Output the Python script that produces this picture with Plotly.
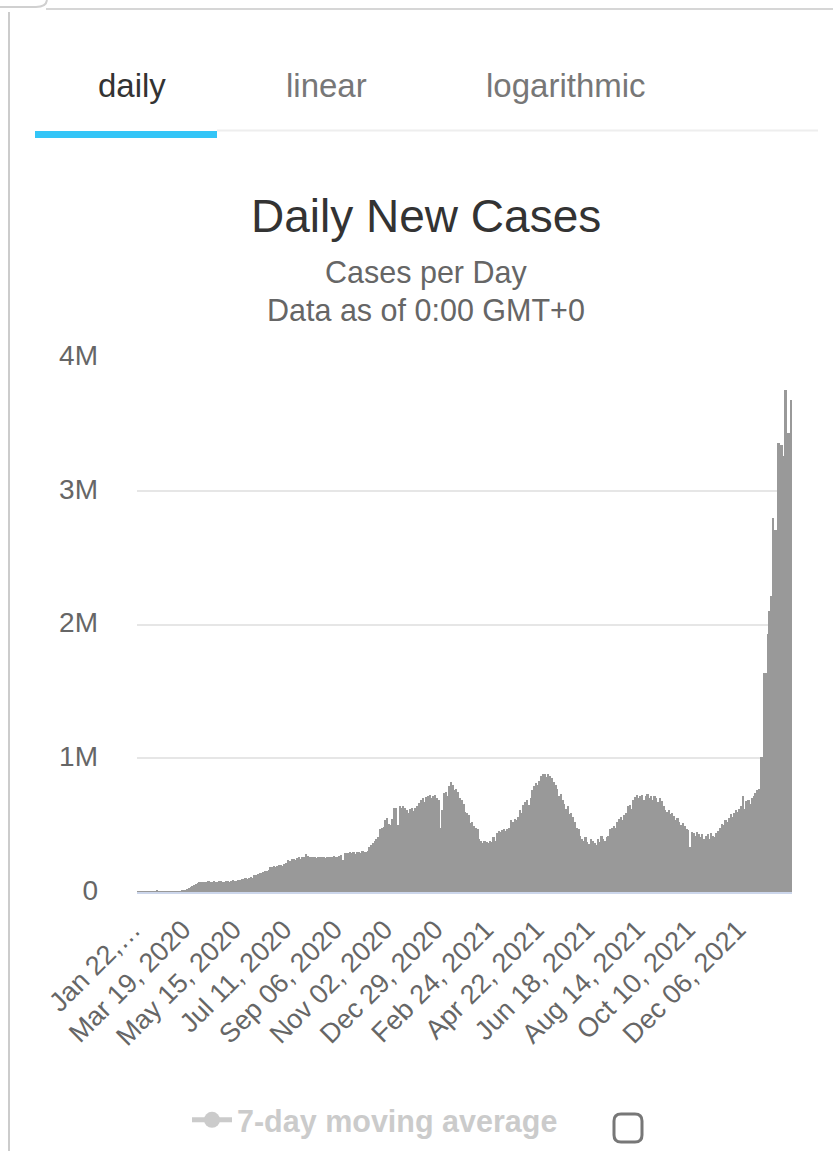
import pandas as pd
import plotly.graph_objects as go

# ---------------- data (daily new cases, thousands, 2-day bins from Jan 22, 2020) ----------------
cases_2020_jan_may = [0.6, 1.5, 2.1, 2.8, 3.5, 3.8, 3.9, 3.6, 3.2, 2.9,
                      2.3, 9.5, 3.5, 2.0, 1.2, 0.8, 0.9, 1.5, 1.8, 2.0,
                      2.3, 2.5, 3.5, 4.2, 7.5, 10.5, 13, 16, 22, 30,
                      38, 48, 55, 62, 68, 74, 78, 75, 72, 78,
                      80, 74, 76, 82, 78, 72, 79, 84, 76, 78]
cases_2020_may_aug = [84, 80, 77, 86, 88, 79, 85, 92, 90, 96,
                      98, 104, 95, 106, 112, 108, 125, 130, 132, 140,
                      145, 150, 160, 158, 165, 185, 188, 195, 190, 198,
                      200, 205, 198, 210, 215, 238, 230, 245, 250, 240,
                      255, 262, 250, 258, 265, 285, 268, 262, 258, 265]
cases_2020_aug_nov = [260, 255, 265, 262, 258, 262, 255, 265, 260, 258,
                      262, 268, 262, 258, 272, 280, 240, 292, 295, 288,
                      298, 290, 300, 285, 300, 302, 290, 305, 300, 296,
                      310, 335, 350, 370, 385, 400, 410, 470, 480, 485,
                      540, 555, 510, 500, 545, 625, 630, 500, 640, 625]
cases_2020_nov_2021_mar = [640, 630, 615, 590, 620, 628, 605, 630, 640, 665,
                           690, 700, 675, 710, 720, 728, 700, 715, 725, 700,
                           690, 480, 610, 737, 745, 720, 790, 825, 800, 760,
                           770, 745, 700, 685, 660, 600, 590, 575, 515, 525,
                           490, 480, 470, 395, 380, 370, 385, 375, 370, 385]
cases_2021_mar_jun = [375, 410, 380, 440, 455, 445, 460, 470, 455, 470,
                      480, 540, 520, 545, 535, 560, 610, 590, 650, 670,
                      690, 650, 700, 760, 790, 815, 800, 830, 870, 880,
                      880, 860, 885, 870, 850, 820, 800, 770, 720, 735,
                      690, 660, 620, 640, 580, 590, 560, 520, 480, 470]
cases_2021_jun_sep = [420, 400, 385, 410, 375, 360, 395, 380, 365, 350,
                      400, 375, 415, 395, 380, 410, 420, 470, 480, 490,
                      475, 520, 545, 560, 540, 575, 590, 640, 650, 620,
                      690, 710, 725, 700, 715, 728, 690, 720, 730, 705,
                      715, 690, 720, 700, 670, 700, 680, 640, 615, 600]
cases_2021_sep_dec = [610, 580, 590, 565, 540, 555, 520, 500, 515, 490,
                      470, 460, 340, 450, 440, 420, 445, 430, 410, 430,
                      395, 420, 435, 400, 440, 420, 410, 440, 455, 480,
                      510, 500, 540, 520, 555, 580, 560, 590, 615, 600,
                      620, 640, 715, 620, 680, 690, 660, 700, 715, 740]
cases_2021_dec_2022_jan = [765, 770, 1010, 1010, 1640, 1640, 1930, 2100, 2210, 2800,
                           2710, 2710, 3360, 3340, 3340, 3260, 3750, 3430, 3430, 3680]

tick_dates = ["2020-01-22", "2020-03-19", "2020-05-15", "2020-07-11", "2020-09-06",
              "2020-11-02", "2020-12-29", "2021-02-24", "2021-04-22", "2021-06-18",
              "2021-08-14", "2021-10-10", "2021-12-06"]
tick_labels = ["Jan 22,…", "Mar 19, 2020", "May 15, 2020", "Jul 11, 2020", "Sep 06, 2020",
               "Nov 02, 2020", "Dec 29, 2020", "Feb 24, 2021", "Apr 22, 2021", "Jun 18, 2021",
               "Aug 14, 2021", "Oct 10, 2021", "Dec 06, 2021"]
y_ticks = [0, 1_000_000, 2_000_000, 3_000_000, 4_000_000]
y_labels = ["0", "1M", "2M", "3M", "4M"]

# ---------------- build ----------------
cases_k = (cases_2020_jan_may + cases_2020_may_aug + cases_2020_aug_nov +
           cases_2020_nov_2021_mar + cases_2021_mar_jun + cases_2021_jun_sep +
           cases_2021_sep_dec + cases_2021_dec_2022_jan)
values = [v * 1000 for v in cases_k]
start = pd.Timestamp("2020-01-22")
BIN_DAYS = 2
x_dates = [start + pd.Timedelta(days=BIN_DAYS * i + BIN_DAYS / 2) for i in range(len(values))]
x_end = start + pd.Timedelta(days=BIN_DAYS * len(values))
tickvals = [pd.Timestamp(d) + pd.Timedelta(hours=12) for d in tick_dates]

W, H = 833, 1151
L, R, T, B = 137, 41, 357, 259
PW, PH = W - L - R, H - T - B


def fx(xp):
    return (xp - L) / PW


def fy(yp):
    return (H - B - yp) / PH


FONT = "Liberation Sans, Arial, Helvetica, sans-serif"

fig = go.Figure()
fig.add_trace(go.Bar(
    x=x_dates, y=values, width=BIN_DAYS * 86400000,
    marker=dict(color="#999999", line=dict(width=0)),
    name="Daily Cases", showlegend=False,
))
fig.add_trace(go.Scatter(
    x=[None], y=[None], mode="lines+markers", name="7-day moving average",
    visible="legendonly", line=dict(color="#999999", width=5),
    marker=dict(color="#999999", size=16),
))

annotations = [
    dict(text="daily", x=fx(132), y=fy(86), font=dict(size=33, color="#333333")),
    dict(text="linear", x=fx(326), y=fy(86), font=dict(size=33, color="#777777")),
    dict(text="logarithmic", x=fx(566), y=fy(86), font=dict(size=33, color="#777777")),
    dict(text="Daily New Cases", x=fx(426), y=fy(216), font=dict(size=46, color="#333333")),
    dict(text="Cases per Day", x=fx(426), y=fy(272), font=dict(size=30.5, color="#666666")),
    dict(text="Data as of 0:00 GMT+0", x=fx(426), y=fy(310), font=dict(size=30.5, color="#666666")),
]
for a in annotations:
    a.update(xref="paper", yref="paper", showarrow=False, xanchor="center", yanchor="middle")
    a["font"]["family"] = FONT


def path_px(points_cmds):
    out = []
    for cmd, pts in points_cmds:
        coords = " ".join(f"{fx(a):.5f},{fy(b):.5f}" for a, b in pts)
        out.append(f"{cmd} {coords}")
    return " ".join(out)


# rounded checkbox
cx0, cy0, cx1, cy1, r = 614, 1114, 642, 1142, 7
checkbox = path_px([
    ("M", [(cx0 + r, cy0)]), ("L", [(cx1 - r, cy0)]), ("Q", [(cx1, cy0), (cx1, cy0 + r)]),
    ("L", [(cx1, cy1 - r)]), ("Q", [(cx1, cy1), (cx1 - r, cy1)]),
    ("L", [(cx0 + r, cy1)]), ("Q", [(cx0, cy1), (cx0, cy1 - r)]),
    ("L", [(cx0, cy0 + r)]), ("Q", [(cx0, cy0), (cx0 + r, cy0)]), ("Z", []),
])
corner = path_px([("M", [(0, 7)]), ("L", [(36, 7)]), ("Q", [(46, 7), (47, 0)])])

shapes = [
    dict(type="line", x0=fx(9), x1=fx(9), y0=fy(12), y1=fy(H), line=dict(color="#cccccc", width=2)),
    dict(type="line", x0=fx(46), x1=fx(W), y0=fy(9), y1=fy(9), line=dict(color="#d6d6d6", width=2)),
    dict(type="path", path=corner, line=dict(color="#d0d0d0", width=2)),
    dict(type="line", x0=fx(217), x1=fx(818), y0=fy(130.5), y1=fy(130.5), line=dict(color="#eeeeee", width=2)),
    dict(type="rect", x0=fx(35), x1=fx(217), y0=fy(138), y1=fy(131), line=dict(width=0), fillcolor="#33c5f7"),
    dict(type="path", path=checkbox, line=dict(color="#777777", width=3), fillcolor="white"),
]
for s in shapes:
    s.update(xref="paper", yref="paper", layer="above")

fig.update_layout(
    width=W, height=H,
    margin=dict(l=L, r=R, t=T, b=B, pad=0, autoexpand=False),
    paper_bgcolor="white", plot_bgcolor="white",
    font=dict(family=FONT, color="#666666"),
    annotations=annotations, shapes=shapes,
    bargap=0,
    showlegend=True,
    legend=dict(orientation="h", xref="container", yref="container",
                x=187 / W, y=1 - 1120 / H, xanchor="left", yanchor="middle",
                itemwidth=40,
                font=dict(size=30.5, color="#999999", weight="bold", family=FONT),
                bgcolor="rgba(0,0,0,0)", itemclick=False, itemdoubleclick=False),
    xaxis=dict(type="date", range=[start, x_end], tickmode="array", tickvals=tickvals,
               ticktext=tick_labels, tickangle=-45, tickfont=dict(size=27, color="#666666"),
               showgrid=False, zeroline=False, showline=True, linecolor="#ccd6eb", linewidth=2,
               ticks="", ticklabelstandoff=9, ticklabelshift=-5, fixedrange=True,
               automargin=False),
    yaxis=dict(range=[0, 4_000_000], tickmode="array", tickvals=y_ticks, ticktext=y_labels,
               tickfont=dict(size=28, color="#666666"), showgrid=True, gridcolor="#e6e6e6",
               gridwidth=2, zeroline=False, showline=False, ticks="", ticklabelstandoff=38,
               ticklabelshift=-2, fixedrange=True, automargin=False),
)

fig.write_html("out.html", config={"displayModeBar": False, "staticPlot": False},
               post_script="document.body.style.margin='0';document.body.style.overflow='hidden';")
